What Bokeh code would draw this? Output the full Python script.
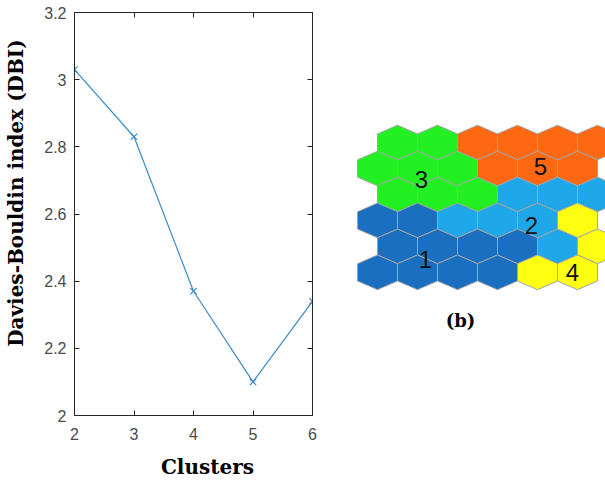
import math
from bokeh.plotting import figure
from bokeh.models import Range1d, FixedTicker, LinearAxis, ColumnDataSource
from bokeh.layouts import row
from bokeh.embed import file_html
from bokeh.resources import INLINE
from bokeh.core.properties import value

# ---- data: Davies-Bouldin index vs number of clusters ----
clusters = [2, 3, 4, 5, 6]
dbi = [3.03, 2.83, 2.37, 2.10, 2.34]
x_ticks = [2, 3, 4, 5, 6]
y_ticks = [2.0, 2.2, 2.4, 2.6, 2.8, 3.0, 3.2]
y_tick_labels = ["2", "2.2", "2.4", "2.6", "2.8", "3", "3.2"]
x_label = "Clusters"
y_label = "Davies-Bouldin index (DBI)"

# ---- data: SOM hexagonal map, cluster id per cell (rows top -> bottom) ----
som_rows = [
    [3, 3, 5, 5, 5, 5],
    [3, 3, 3, 5, 5, 5],
    [3, 3, 3, 2, 2, 2],
    [1, 1, 2, 2, 2, 4],
    [1, 1, 1, 1, 2, 4],
    [1, 1, 1, 1, 4, 4],
]
cluster_colors = {1: "#1a6fc0", 2: "#1ea8e9", 3: "#22f022", 4: "#ffff12", 5: "#ff6812"}
label_text = ["1", "2", "3", "4", "5"]
label_col = [0.7, 3.35, 0.6, 4.375, 3.575]   # offset-grid column units
label_row = [4.52, 3.18, 1.41, 5.02, 0.91]   # offset-grid row units
panel_label = "(b)"

BLUE = "#3a8bc9"
AXIS = "#262626"
TICK_FONT = "Liberation Sans"
SERIF = "DejaVu Serif"
NBSP = "\u00a0"

# ---------------- left: line chart ----------------
p = figure(width=330, height=481, output_backend="svg", toolbar_location=None,
           x_range=Range1d(2, 6), y_range=Range1d(2, 3.2),
           min_border_left=74, min_border_right=18, min_border_top=12, min_border_bottom=65)
p.xgrid.visible = False
p.ygrid.visible = False
p.outline_line_color = AXIS
p.outline_line_width = 1

p.line(clusters, dbi, line_color=BLUE, line_width=1.2)
p.scatter(clusters, dbi, marker="x", size=9, line_color=BLUE, line_width=1.2)

for ax in (p.xaxis[0], p.yaxis[0]):
    ax.axis_line_color = AXIS
    ax.major_tick_line_color = AXIS
    ax.major_tick_in = 5
    ax.major_tick_out = 0
    ax.minor_tick_line_color = None
    ax.major_label_text_font = TICK_FONT
    ax.major_label_text_font_size = "16px"
    ax.major_label_text_color = "#4a4a4a"
    ax.axis_label_text_font = SERIF
    ax.axis_label_text_font_style = "bold"
    ax.axis_label_text_font_size = "20px"
    ax.axis_label_text_color = "#000000"

p.xaxis[0].ticker = FixedTicker(ticks=x_ticks)
p.yaxis[0].ticker = FixedTicker(ticks=y_ticks)
p.yaxis[0].major_label_overrides = {t: s for t, s in zip(y_ticks, y_tick_labels)}
# labels sit slightly off-centre in the reference: pad with non-breaking spaces
p.xaxis[0].axis_label = NBSP * 4 + x_label
p.yaxis[0].axis_label = NBSP * 6 + y_label
p.xaxis[0].major_label_standoff = 12
p.xaxis[0].axis_label_standoff = 12
p.yaxis[0].major_label_standoff = 8
p.yaxis[0].axis_label_standoff = 13

# box ticks on top and right (no labels)
for loc, ticks in (("above", x_ticks), ("right", y_ticks)):
    ax = LinearAxis(ticker=FixedTicker(ticks=ticks))
    ax.axis_line_color = AXIS
    ax.major_tick_line_color = AXIS
    ax.major_tick_in = 5
    ax.major_tick_out = 0
    ax.minor_tick_line_color = None
    ax.major_label_text_font_size = "1px"
    ax.major_label_text_color = None
    ax.major_label_standoff = 0
    p.add_layout(ax, loc)

# ---------------- right: hexagonal SOM map ----------------
SQ3 = math.sqrt(3)
qs, rs, cols = [], [], []
for r, cells in enumerate(som_rows):
    for c, cid in enumerate(cells):
        qs.append(c - (r + 1) // 2)
        rs.append(r)
        cols.append(cluster_colors[cid])
src = ColumnDataSource(dict(q=qs, r=rs, color=cols))

h = figure(width=275, height=481, output_backend="svg", toolbar_location=None,
           x_range=Range1d(-2.901, 9.007), y_range=Range1d(-15.772, 7.513),
           x_axis_location=None, y_axis_location=None,
           min_border_left=0, min_border_right=0, min_border_top=12, min_border_bottom=65)
h.grid.visible = False
h.outline_line_color = None

h.hex_tile(q="q", r="r", size=1, orientation="pointytop", source=src,
           fill_color="color", line_color="#a3a3a3", line_width=1)

# label positions: offset-grid units -> hex data units
lx = [SQ3 * c for c in label_col]
ly = [-1.5 * r for r in label_row]
h.text(x=lx, y=ly, text=label_text, text_font=value(TICK_FONT), text_font_size="24px",
       text_align="center", text_baseline="middle", text_color="#111111")

h.text(x=[SQ3 * 1.575], y=[-1.5 * 6.866], text=[panel_label], text_font=value(SERIF),
       text_font_style="bold", text_font_size="18px", text_align="center",
       text_baseline="middle", text_color="#000000")

layout = row(p, h, spacing=0)
open("out.html", "w").write(file_html(layout, INLINE))
